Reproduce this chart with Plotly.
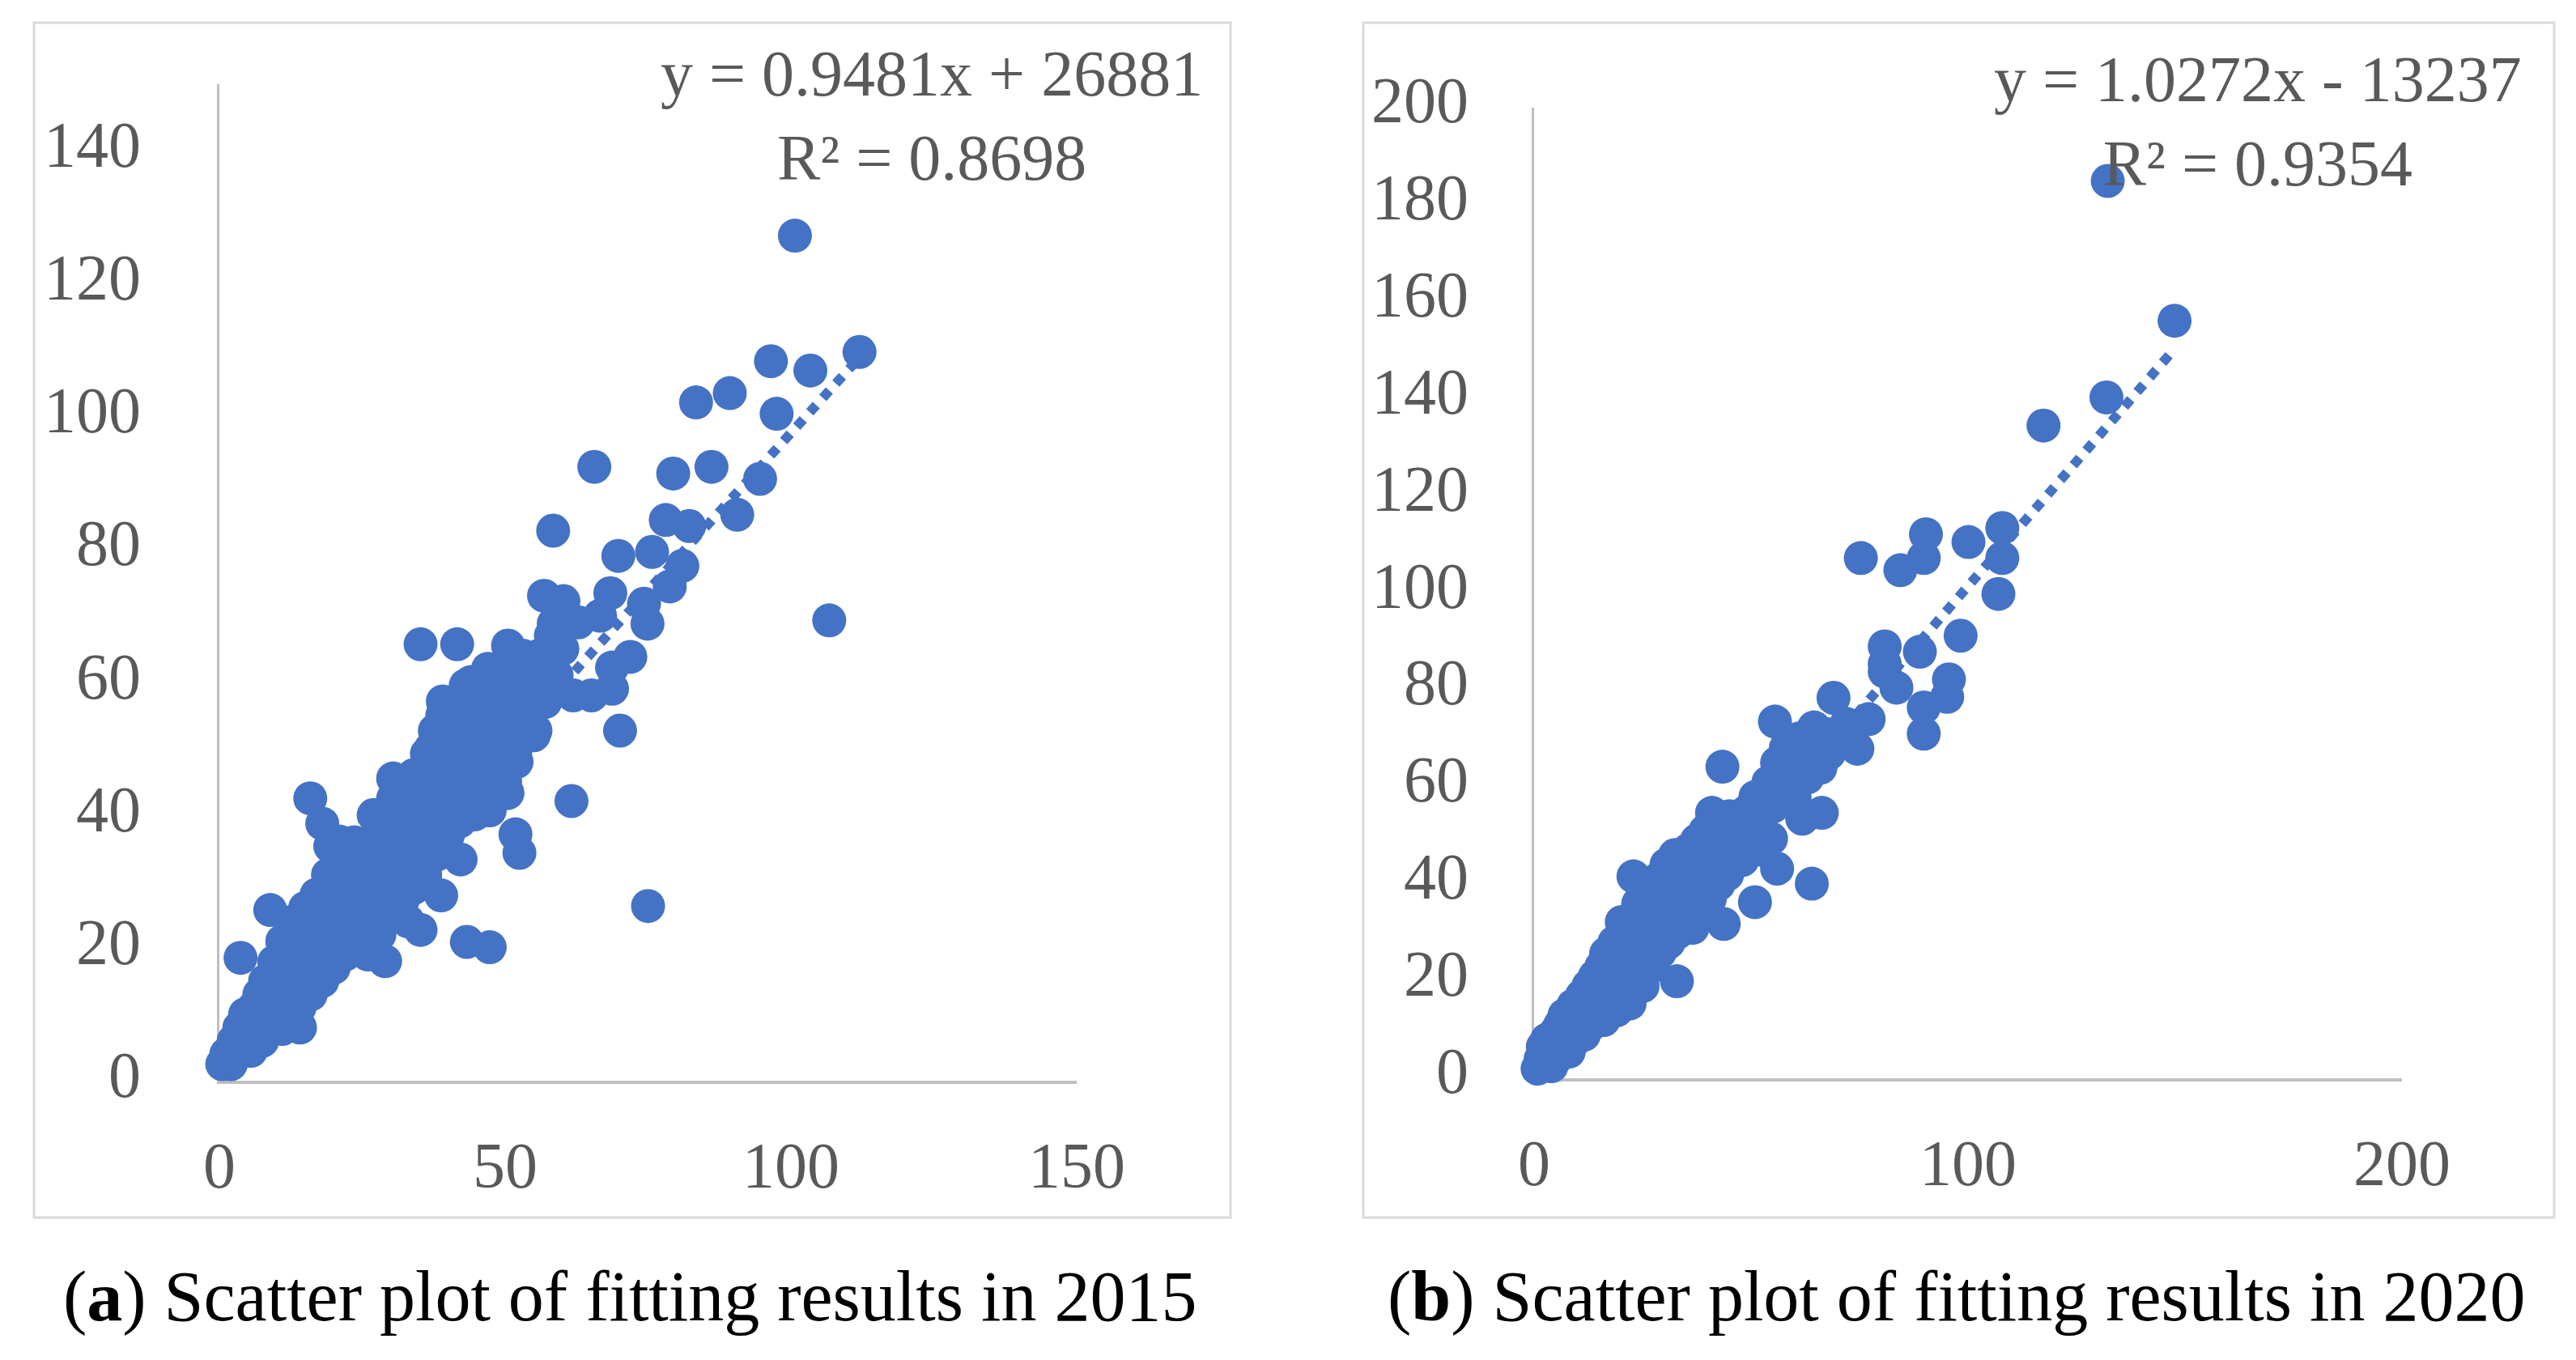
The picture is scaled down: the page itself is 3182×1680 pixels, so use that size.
import numpy as np
import plotly.graph_objects as go

# ---------------- data ----------------
# 2015 panel: sparse / outlying points
x2015_sparse = [100.7, 112.0, 96.5, 103.4, 83.4, 89.3, 97.5, 65.6, 79.4, 86.1, 94.6, 90.6, 58.4, 78.1,
                82.2, 69.8, 75.7, 81.0, 78.8, 74.9, 106.7, 68.4, 74.3, 56.8, 60.2, 58.5, 62.8, 66.6,
                58.8, 35.2, 41.6, 50.5, 71.9, 68.7, 68.7, 65.1, 61.9, 58.8, 70.1, 61.6, 75.0, 43.3,
                47.3, 43.1, 39.1, 37.7, 41.2, 36.3, 55.3, 51.8, 49.0, 46.9, 50.4, 47.3, 44.7, 51.8,
                52.5, 42.2, 38.8, 35.2, 15.9, 18.0, 30.4, 30.4, 27.9, 23.6, 19.4, 8.9, 3.7, 9.6,
                11.0, 14.1, 1.1]
y2015_sparse = [127.2, 109.7, 108.3, 106.9, 102.1, 103.5, 100.4, 92.4, 91.4, 92.4, 90.6, 85.2, 82.8, 84.4,
                83.5, 79.0, 79.6, 77.5, 74.4, 68.8, 69.3, 73.4, 71.8, 73.0, 72.2, 68.8, 69.0, 70.0,
                65.2, 65.7, 65.7, 65.5, 63.8, 62.2, 59.0, 58.0, 58.0, 59.8, 52.7, 42.1, 26.3, 20.9,
                20.1, 59.5, 57.1, 52.7, 52.4, 49.2, 52.7, 49.7, 47.9, 45.5, 43.3, 40.7, 40.1, 37.1,
                34.3, 33.3, 27.9, 22.7, 42.5, 38.7, 45.5, 42.5, 38.9, 35.9, 35.3, 25.7, 18.5, 17.9,
                7.8, 8.0, 3.0]
# 2015 panel: dense cluster
x2015_dense = [0.5, 1.2, 2, 2.5, 3, 3.5, 4, 4.5, 5, 5.5,
               6, 6.5, 7, 7.5, 8, 8.5, 9, 9.5, 10, 10,
               11, 11, 12, 12, 13, 13, 14, 14, 15, 15,
               16, 16, 17, 17, 18, 18, 19, 19, 20, 20,
               21, 21, 22, 22, 23, 23, 24, 24, 25, 25,
               26, 26, 27, 27, 28, 28, 29, 29, 30, 30,
               31, 31, 32, 32, 33, 33, 34, 34, 35, 35,
               36, 36, 37, 37, 38, 38, 39, 39, 40, 40,
               41, 41, 42, 42, 43, 43, 44, 44, 45, 45,
               46, 46, 47, 47, 48, 48, 49, 49, 50, 50,
               51, 51, 52, 52, 53, 53, 54, 55, 55,
               56, 57, 58, 59, 60, 21, 27, 33, 29]
y2015_dense = [2.5, 4, 2.5, 6, 4, 8, 5.5, 10, 7.5, 4.5,
               11, 8, 13, 6, 15, 10, 12.5, 8, 17, 14,
               21, 10.5, 18, 13, 24, 15.5, 20, 11, 26, 17,
               22, 13, 28, 19, 24, 15, 31, 20, 27, 17,
               33, 23, 29, 19, 35, 25, 31, 21, 28, 24,
               34, 19, 30, 26, 37, 22, 33, 28, 40, 25,
               35, 30, 43, 27, 38, 32, 46, 29, 41, 35,
               44, 31, 50, 38, 46, 34, 55, 41, 49, 37,
               53, 44, 57, 39, 47, 51, 60, 43, 55, 49,
               58, 45, 62, 52, 56, 47, 60, 53, 62, 45,
               57, 51, 60, 48, 64, 55, 58, 61, 52,
               64, 57, 67, 61, 65, 36, 40, 24, 18]

# 2020 panel: sparse / outlying points
x2020_sparse = [132.2, 147.6, 131.9, 117.4, 107.9, 90.3, 100.1, 75.3, 89.8, 84.4, 107.9, 107.0, 98.3,
                80.8, 88.9, 80.8, 80.8, 83.5, 95.6, 95.2, 89.8, 89.8, 69.0, 77.1, 74.5, 55.5, 64.5,
                61.8, 43.4, 55.5, 60.0, 61.8, 66.3, 41.0, 54.6, 56.0, 64.0, 50.9, 43.7, 22.9, 32.9,
                22.0, 20.2, 16.6]
y2020_sparse = [184.9, 156.1, 140.3, 134.5, 113.4, 112.1, 110.5, 107.2, 107.2, 104.7, 107.2, 99.8, 91.2,
                89.0, 87.9, 85.4, 83.8, 80.5, 82.2, 78.6, 76.4, 71.0, 78.4, 74.0, 67.9, 73.5, 72.3,
                67.4, 64.2, 59.2, 57.6, 53.5, 54.7, 54.7, 49.4, 43.2, 40.1, 36.3, 31.8, 41.6, 20.0,
                15.4, 32.2, 25.7]
# 2020 panel: dense cluster
x2020_dense = [0.8, 1.5, 2, 2.5, 3, 3.5, 4, 4.5, 5, 5.5,
               6, 6.5, 7, 7.5, 8, 8.5, 9, 9.5, 10, 10.5,
               11, 11.5, 12, 12.5, 13, 13.5, 14, 14.5, 15, 15.5,
               16, 16.5, 17, 17.5, 18, 18.5, 19, 19.5, 20, 20.5,
               21, 21.5, 22, 22.5, 23, 23.5, 24, 24.5, 25, 25.5,
               26, 26.5, 27, 27.5, 28, 28.5, 29, 29.5, 30, 30.5,
               31, 31.5, 32, 32.5, 33, 33.5, 34, 34.5, 35, 35.5,
               36, 36.5, 37, 37.5, 38, 38.5, 39, 39.5, 40, 40.5,
               41, 41.5, 42, 42.5, 43, 44, 44.5, 45, 46, 47,
               48, 49, 50, 51, 52, 53, 54, 55, 56, 57,
               58, 59, 60, 61, 62, 63, 64, 66, 67, 68, 70, 72]
y2020_dense = [2, 4, 6.5, 3, 8, 5, 2.5, 7, 9.5, 4.5,
               11, 7, 13, 9, 5.5, 12, 15, 8, 10.5, 14,
               17, 9, 13, 19, 11, 16, 21, 13, 18, 23,
               12, 20, 25, 16, 22, 28, 14, 19, 24, 30,
               17, 26, 21, 33, 28, 23, 36, 30, 19, 26,
               33, 38, 23, 29, 35, 41, 26, 31, 38, 44,
               28, 34, 41, 46, 30, 37, 43, 33, 40, 47,
               36, 31, 43, 49, 39, 34, 46, 51, 42, 37,
               48, 44, 52, 40, 47, 50, 42, 54, 48, 52,
               45, 55, 50, 58, 53, 47, 61, 56, 65, 60,
               68, 63, 58, 70, 66, 62, 69, 64, 71, 67, 70, 73]

# trendline coefficients (from the chart's equations, plot units)
slope2015, icpt2015 = 0.9481, 2.6881
slope2020, icpt2020 = 1.0272, -1.3237

eq2015 = "y = 0.9481x + 26881<br>R² = 0.8698"
eq2020 = "y = 1.0272x - 13237<br>R² = 0.9354"
cap2015 = "(<b>a</b>) Scatter plot of fitting results in 2015"
cap2020 = "(<b>b</b>) Scatter plot of fitting results in 2020"

xt2015 = [0, 50, 100, 150]
yt2015 = [0, 20, 40, 60, 80, 100, 120, 140]
xt2020 = [0, 100, 200]
yt2020 = [0, 20, 40, 60, 80, 100, 120, 140, 160, 180, 200]

# ---------------- figure ----------------
W, H = 3182, 1680
BLUE = "#4472C4"
GRAY = "#595959"
FONT = "Liberation Serif"

x15 = x2015_dense + x2015_sparse
y15 = y2015_dense + y2015_sparse
x20 = x2020_dense + x2020_sparse
y20 = y2020_dense + y2020_sparse

fig = go.Figure()
fig.add_trace(go.Scatter(x=x15, y=y15, mode="markers", xaxis="x", yaxis="y",
                         marker=dict(size=42, color=BLUE, line=dict(width=0)),
                         cliponaxis=False))
t15x = np.array([min(x15), max(x15)])
fig.add_trace(go.Scatter(x=t15x, y=slope2015 * t15x + icpt2015, mode="lines", xaxis="x", yaxis="y",
                         line=dict(color=BLUE, width=12, dash="dot"), cliponaxis=False))
fig.add_trace(go.Scatter(x=x20, y=y20, mode="markers", xaxis="x2", yaxis="y2",
                         marker=dict(size=42, color=BLUE, line=dict(width=0)),
                         cliponaxis=False))
t20x = np.array([min(x20), max(x20)])
fig.add_trace(go.Scatter(x=t20x, y=slope2020 * t20x + icpt2020, mode="lines", xaxis="x2", yaxis="y2",
                         line=dict(color=BLUE, width=12, dash="dot"), cliponaxis=False))

def px_x(p):
    return p / W

def px_y(p):
    return 1 - p / H

axis_common = dict(showgrid=False, zeroline=False, showline=True, linecolor="#BFBFBF",
                   ticks="", tickfont=dict(family=FONT, size=80, color=GRAY),
                   layer="below traces", fixedrange=True, automargin=False)

fig.update_layout(
    template="none",
    width=W, height=H, margin=dict(l=0, r=0, t=0, b=0, pad=0, autoexpand=False),
    paper_bgcolor="white", plot_bgcolor="rgba(0,0,0,0)", showlegend=False,
    xaxis=dict(domain=[px_x(263), px_x(1322)], range=[0, 150], tickvals=xt2015,
               anchor="y", linewidth=4, ticklabelstandoff=32, **axis_common),
    yaxis=dict(domain=[px_y(1327), px_y(96)], range=[0, 150], tickvals=yt2015,
               anchor="x", linewidth=3, ticklabelstandoff=78, ticklabelshift=-8, **axis_common),
    xaxis2=dict(domain=[px_x(1887), px_x(2959)], range=[0, 200], tickvals=xt2020,
                anchor="y2", linewidth=4, ticklabelstandoff=32, **axis_common),
    yaxis2=dict(domain=[px_y(1324), px_y(125)], range=[0, 200], tickvals=yt2020,
                anchor="x2", linewidth=3, ticklabelstandoff=62, ticklabelshift=-10, **axis_common),
)

# chart frames
for x0, x1 in [(34, 1512), (1676, 3147)]:
    fig.add_shape(type="rect", xref="paper", yref="paper",
                  x0=px_x(x0), x1=px_x(x1), y0=px_y(1496), y1=px_y(20),
                  line=dict(color="#D9D9D9", width=3), fillcolor="rgba(0,0,0,0)", layer="below")

# trendline equations
fig.add_annotation(text=eq2015, xref="paper", yref="paper", x=px_x(1143), y=px_y(135),
                   xanchor="center", yanchor="middle", align="center", showarrow=False,
                   font=dict(family=FONT, size=80, color=GRAY))
fig.add_annotation(text=eq2020, xref="paper", yref="paper", x=px_x(2781), y=px_y(142),
                   xanchor="center", yanchor="middle", align="center", showarrow=False,
                   font=dict(family=FONT, size=80, color=GRAY))

# captions
fig.add_annotation(text=cap2015, xref="paper", yref="paper", x=px_x(770), y=px_y(1593),
                   xanchor="center", yanchor="middle", showarrow=False,
                   font=dict(family=FONT, size=88, color="black"))
fig.add_annotation(text=cap2020, xref="paper", yref="paper", x=px_x(2408), y=px_y(1593),
                   xanchor="center", yanchor="middle", showarrow=False,
                   font=dict(family=FONT, size=88, color="black"))

fig.write_html("out.html")
